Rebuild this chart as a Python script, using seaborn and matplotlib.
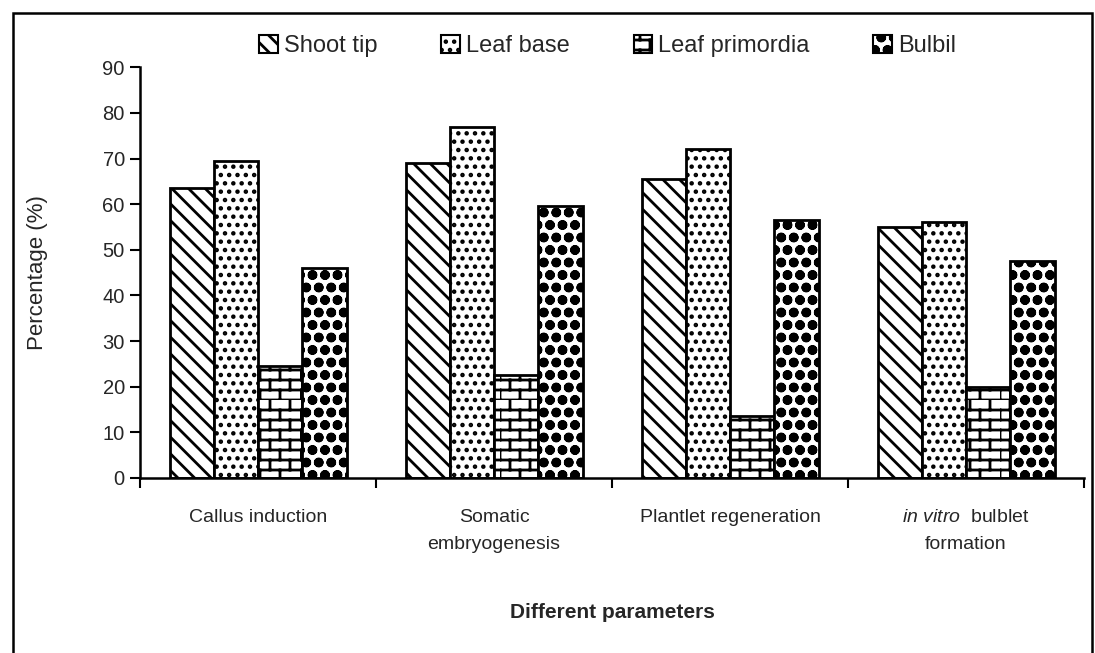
import matplotlib
matplotlib.use("Agg")
import matplotlib.pyplot as plt
import matplotlib.hatch as mhatch
from matplotlib.patches import Patch, Rectangle
from matplotlib.path import Path
import numpy as np
import pandas as pd
import seaborn as sns

# values
parameters = ["Callus induction", "Somatic\nembryogenesis", "Plantlet regeneration",
              "$\\it{in\\ vitro}$  bulblet\nformation"]
explants = ["Shoot tip", "Leaf base", "Leaf primordia", "Bulbil"]
shoot_tip = [63.5, 69, 65.5, 55]
leaf_base = [69.5, 77, 72, 56]
leaf_primordia = [24.5, 22.5, 13.5, 20]
bulbil = [46, 59.5, 56.5, 47.5]


class BrickHatch(mhatch.HatchPatternBase):
    # brick wall pattern, 'b' in the hatch string
    def __init__(self, hatch, density):
        self.rows = 10
        self.cols = 5
        on = hatch.count('b') > 0
        self.num_vertices = (self.rows * 2 + self.rows * self.cols * 2) if on else 0

    def set_vertices_and_codes(self, vertices, codes):
        pts = []
        for i in range(self.rows):
            y0 = i / self.rows
            y1 = (i + 1) / self.rows
            pts += [(0, y0), (1, y0)]
            shift = 0.5 / self.cols if i % 2 else 0
            for j in range(self.cols):
                x = j / self.cols + shift
                pts += [(x, y0), (x, y1)]
        vertices[:] = np.array(pts)
        codes[0::2] = Path.MOVETO
        codes[1::2] = Path.LINETO


class BallRing(mhatch.Circles):
    # 'q' -> rings of the bulbil pattern (row count must be even)
    size = 0.28
    filled = False

    def __init__(self, hatch, density):
        self.num_rows = 8 if 'q' in hatch else 0
        super().__init__(hatch, density)


class BallCore(mhatch.Circles):
    size = 0.12
    filled = True

    def __init__(self, hatch, density):
        self.num_rows = 8 if 'q' in hatch else 0
        super().__init__(hatch, density)


mhatch._hatch_types += [BrickHatch, BallRing, BallCore]

sns.set_style("white")
plt.rcParams['font.family'] = ['Liberation Sans', 'DejaVu Sans']
plt.rcParams['mathtext.fontset'] = 'custom'
plt.rcParams['mathtext.it'] = 'Liberation Sans:italic'
plt.rcParams['mathtext.rm'] = 'Liberation Sans'
plt.rcParams['hatch.linewidth'] = 2.0

df = pd.DataFrame({
    "parameter": parameters * 4,
    "explant": np.repeat(explants, 4),
    "value": shoot_tip + leaf_base + leaf_primordia + bulbil,
})

hatches = ["\\\\", "..", "b", "q"]

fig = plt.figure(figsize=(10.95, 6.53), dpi=100)
ax = fig.add_axes([0.1279, 0.268, 0.8621, 0.629])

sns.barplot(data=df, x="parameter", y="value", hue="explant", order=parameters,
            hue_order=explants, width=0.75, ax=ax, legend=False)

for cont, h in zip(ax.containers, hatches):
    for bar in cont:
        bar.set_facecolor("white")
        bar.set_edgecolor("black")
        bar.set_linewidth(2)
        bar.set_hatch(h)

ax.set_ylim(0, 90)
ax.set_xlim(-0.5, 3.5)
ax.set_yticks(range(0, 91, 10))
ax.tick_params(axis='y', direction='out', length=7, width=1.5, labelsize=14.5, pad=4,
               left=True, color='black')

# ticks on the group boundaries, labels in between
ax.set_xticks(np.arange(-0.5, 3.6, 1))
ax.set_xticklabels([])
ax.tick_params(axis='x', which='major', direction='out', length=7, width=1.5,
               bottom=True, color='black')
ax.set_xticks(range(4), minor=True)
ax.set_xticklabels(parameters, minor=True, fontsize=14, linespacing=1.8)
ax.tick_params(axis='x', which='minor', length=0, pad=22)

for s in ["top", "right"]:
    ax.spines[s].set_visible(False)
for s in ["left", "bottom"]:
    ax.spines[s].set_color("black")
    ax.spines[s].set_linewidth(1.8)

ax.set_ylabel("Percentage (%)", fontsize=16)
ax.yaxis.set_label_coords(-0.098, 0.5)
ax.set_xlabel("Different parameters", fontsize=15, fontweight='bold')
ax.xaxis.set_label_coords(0.5, -0.305)

handles = [Patch(facecolor="white", edgecolor="black", hatch=h, linewidth=1.5)
           for h in hatches]
fig.legend(handles, explants, loc="center", bbox_to_anchor=(0.555, 0.93), ncol=4,
           frameon=False, fontsize=17, handlelength=0.8, handleheight=0.8,
           handletextpad=0.25, columnspacing=2.7)

# border of the scanned figure panel
fig.patches.append(Rectangle((0.012, -0.05), 0.985, 1.03, transform=fig.transFigure,
                             fill=False, edgecolor="black", linewidth=1.8))

fig.savefig("out.png", dpi=100)
